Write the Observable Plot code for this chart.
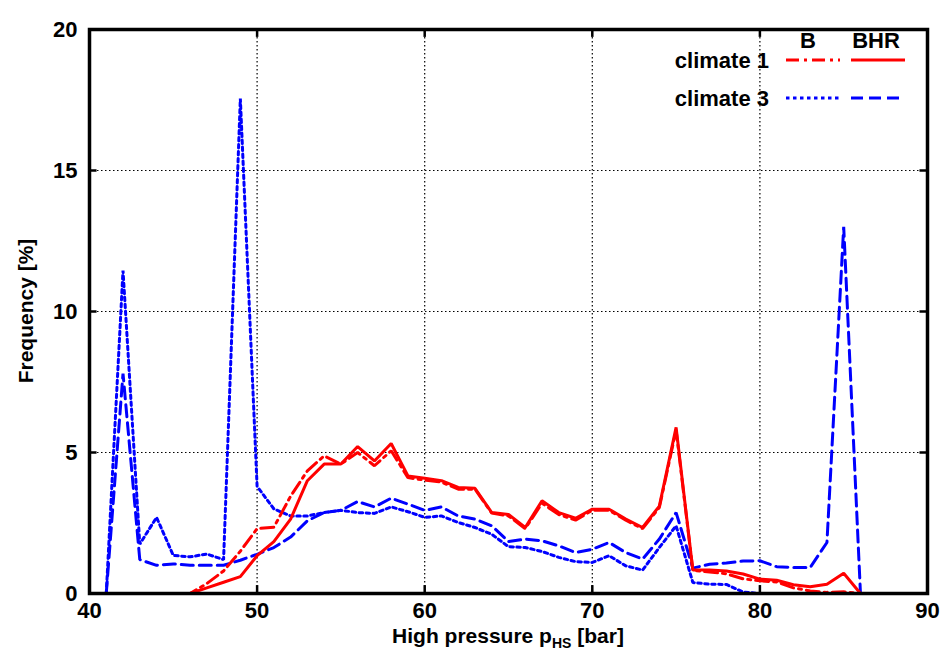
<!DOCTYPE html>
<html>
<head>
<meta charset="utf-8">
<script src="https://cdn.jsdelivr.net/npm/d3@7"></script>
<script src="https://cdn.jsdelivr.net/npm/@observablehq/plot@0.6"></script>
<style>
  html, body { margin: 0; padding: 0; background: #fff; }
  #chart svg { display: block; }
</style>
</head>
<body>
<div id="chart"></div>
<script>
// Pressure bins [bar]
const pressure = [41,42,43,44,45,46,47,48,49,50,51,52,53,54,55,56,57,58,59,60,61,62,63,64,65,66,67,68,69,70,71,72,73,74,75,76,77,78,79,80,81,82,83,84,85,86];

// climate 3, B (blue dotted)
const climate3B = [0,11.45,1.75,2.7,1.35,1.3,1.4,1.2,17.55,3.8,3.0,2.75,2.75,2.87,2.95,2.87,2.84,3.07,2.9,2.7,2.75,2.52,2.34,2.1,1.66,1.63,1.49,1.28,1.13,1.1,1.34,0.98,0.83,1.63,2.4,0.39,0.33,0.32,0.05,0,0,0,0,0,0,0];

// climate 3, BHR (blue dashed)
const climate3BHR = [0,7.8,1.2,1.0,1.05,1.0,1.0,1.0,1.18,1.39,1.63,2.0,2.58,2.87,2.95,3.26,3.07,3.38,3.17,2.95,3.07,2.75,2.64,2.4,1.84,1.93,1.87,1.69,1.45,1.57,1.81,1.45,1.22,1.93,2.87,0.9,1.04,1.08,1.15,1.16,0.95,0.92,0.92,1.81,13.0,0];

// climate 1, B (red dash-dot)
const climate1B = [0,0,0,0,0,0,0.35,0.8,1.5,2.3,2.35,3.45,4.35,4.88,4.59,5.0,4.53,5.06,4.11,4.02,3.95,3.7,3.7,2.85,2.75,2.3,3.2,2.8,2.6,2.95,2.95,2.6,2.3,3.05,5.8,0.82,0.76,0.7,0.52,0.45,0.41,0.2,0.09,0.04,0.06,0];

// climate 1, BHR (red solid)
const climate1BHR = [0,0,0,0,0,0,0.2,0.4,0.6,1.34,1.84,2.64,4.0,4.59,4.59,5.21,4.7,5.32,4.17,4.09,4.0,3.76,3.73,2.87,2.8,2.34,3.29,2.87,2.67,2.99,2.99,2.64,2.34,3.1,5.89,0.83,0.83,0.8,0.69,0.51,0.47,0.31,0.24,0.33,0.72,0];

const xTicks = [40,50,60,70,80,90];
const yTicks = [0,5,10,15,20];
const xGrid = [50,60,70,80];
const yGrid = [5,10,15];

const RED = "#ff0000", BLUE = "#0000ff";

function rows(values) { return pressure.map((p, i) => ({p, v: values[i]})); }

const plot = Plot.plot({
  width: 944,
  height: 652,
  marginLeft: 89,
  marginRight: 17,
  marginTop: 29,
  marginBottom: 59,
  style: {fontFamily: "Liberation Sans, Arial, sans-serif", fontWeight: "bold", fontSize: "22px", color: "black", background: "white"},
  x: {domain: [40, 90], ticks: xTicks, label: null},
  y: {domain: [0, 20], ticks: yTicks, label: null},
  marks: [
    Plot.ruleX(xGrid, {x: d => d, stroke: "black", strokeWidth: 1.2, strokeDasharray: "1.5,2.5"}),
    Plot.ruleY(yGrid, {y: d => d, stroke: "black", strokeWidth: 1.2, strokeDasharray: "1.5,2.5"}),
    Plot.axisX({ticks: xTicks, tickSize: 0, tickPadding: 9, fontSize: 22, fontWeight: "bold", label: null}),
    Plot.axisY({ticks: yTicks, tickSize: 0, tickPadding: 12, fontSize: 22, fontWeight: "bold", label: null}),
    Plot.line(rows(climate3B), {x: "p", y: "v", stroke: BLUE, strokeWidth: 3, strokeDasharray: "3.5,3.5", strokeLinejoin: "miter"}),
    Plot.line(rows(climate3BHR), {x: "p", y: "v", stroke: BLUE, strokeWidth: 3, strokeDasharray: "12,6", strokeLinejoin: "miter"}),
    Plot.line(rows(climate1B), {x: "p", y: "v", stroke: RED, strokeWidth: 3, strokeDasharray: "13,5,3,5", strokeLinejoin: "miter"}),
    Plot.line(rows(climate1BHR), {x: "p", y: "v", stroke: RED, strokeWidth: 3, strokeLinejoin: "miter"}),
    // inward ticks
    Plot.ruleX(xGrid, {x: d => d, y1: 0, y2: 0.28, stroke: "black", strokeWidth: 2.5}),
    Plot.ruleX(xGrid, {x: d => d, y1: 20, y2: 19.72, stroke: "black", strokeWidth: 2.5}),
    Plot.ruleY(yGrid, {y: d => d, x1: 40, x2: 40.45, stroke: "black", strokeWidth: 2.5}),
    Plot.ruleY(yGrid, {y: d => d, x1: 90, x2: 89.55, stroke: "black", strokeWidth: 2.5}),
    Plot.frame({stroke: "black", strokeWidth: 3.5})
  ]
});

document.getElementById("chart").appendChild(plot);

// Axis titles and legend
const svg = d3.select(plot);
const font = "Liberation Sans, Arial, sans-serif";

const xt = svg.append("text")
  .attr("x", 508).attr("y", 643)
  .attr("text-anchor", "middle")
  .attr("font-family", font).attr("font-weight", "bold").attr("font-size", 21)
  .attr("fill", "black");
xt.append("tspan").text("High pressure p");
xt.append("tspan").attr("font-size", 14).attr("dy", 5).text("HS");
xt.append("tspan").attr("dy", -5).text(" [bar]");

svg.append("text")
  .attr("transform", "translate(33,311) rotate(-90)")
  .attr("text-anchor", "middle")
  .attr("font-family", font).attr("font-weight", "bold").attr("font-size", 21)
  .attr("fill", "black")
  .text("Frequency [%]");

const legend = svg.append("g")
  .attr("font-family", font).attr("font-weight", "bold").attr("font-size", 22).attr("fill", "black");

legend.append("text").attr("x", 808).attr("y", 48).attr("text-anchor", "middle").text("B");
legend.append("text").attr("x", 876).attr("y", 48).attr("text-anchor", "middle").text("BHR");

const legendRows = [
  {label: "climate 1", y: 60, color: RED, b: "13,5,3,5", bhr: null},
  {label: "climate 3", y: 98, color: BLUE, b: "3.5,3.5", bhr: "12,6"}
];
legendRows.forEach(r => {
  legend.append("text").attr("x", 769).attr("y", r.y + 7.5).attr("text-anchor", "end").text(r.label);
  legend.append("line").attr("x1", 786).attr("x2", 840).attr("y1", r.y).attr("y2", r.y)
    .attr("stroke", r.color).attr("stroke-width", 3).attr("stroke-dasharray", r.b);
  const l2 = legend.append("line").attr("x1", 851).attr("x2", 905).attr("y1", r.y).attr("y2", r.y)
    .attr("stroke", r.color).attr("stroke-width", 3);
  if (r.bhr) l2.attr("stroke-dasharray", r.bhr);
});
</script>
</body>
</html>
